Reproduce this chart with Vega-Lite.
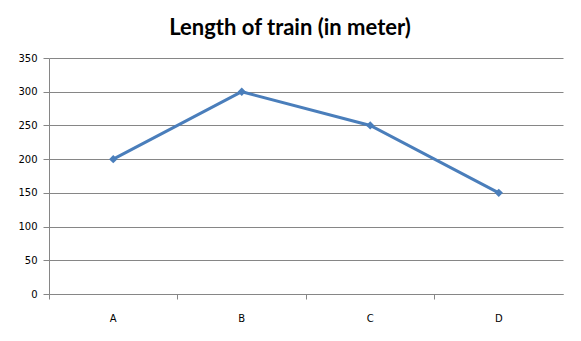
{
  "$schema": "https://vega.github.io/schema/vega-lite/v6.json",
  "width": 514,
  "height": 236,
  "autosize": {"type": "none"},
  "padding": {"left": 49, "top": 58, "right": 18, "bottom": 47},
  "background": "white",
  "title": {
    "text": "Length of train (in meter)",
    "font": "Lato",
    "fontSize": 22,
    "fontWeight": "bold",
    "color": "#000000",
    "anchor": "middle",
    "dx": -16,
    "offset": -9,
    "baseline": "bottom"
  },
  "data": {
    "values": [
      {"train": "A", "length": 200},
      {"train": "B", "length": 300},
      {"train": "C", "length": 250},
      {"train": "D", "length": 150}
    ]
  },
  "encoding": {
    "x": {
      "field": "train",
      "type": "nominal",
      "scale": {"type": "band", "paddingInner": 0, "paddingOuter": 0},
      "axis": {
        "title": null,
        "labelAngle": 0,
        "bandPosition": 0,
        "labelFont": "DejaVu Sans",
        "labelFontSize": 10,
        "labelColor": "#000000",
        "labelPadding": 14,
        "domainColor": "#868686",
        "tickColor": "#868686",
        "tickSize": 5,
        "grid": false
      }
    },
    "y": {
      "field": "length",
      "type": "quantitative",
      "scale": {"domain": [0, 350], "nice": false},
      "axis": {
        "title": null,
        "values": [0, 50, 100, 150, 200, 250, 300, 350],
        "labelFont": "DejaVu Sans",
        "labelFontSize": 10,
        "labelColor": "#000000",
        "labelPadding": 6,
        "domainColor": "#868686",
        "tickColor": "#868686",
        "tickSize": 6,
        "gridColor": "#868686",
        "gridOpacity": 1
      }
    }
  },
  "layer": [
    {
      "mark": {"type": "line", "color": "#4A7EBB", "strokeWidth": 3}
    },
    {
      "mark": {"type": "point", "shape": "diamond", "filled": true, "color": "#4A7EBB", "size": 70, "opacity": 1}
    }
  ],
  "config": {
    "view": {"stroke": null}
  }
}
